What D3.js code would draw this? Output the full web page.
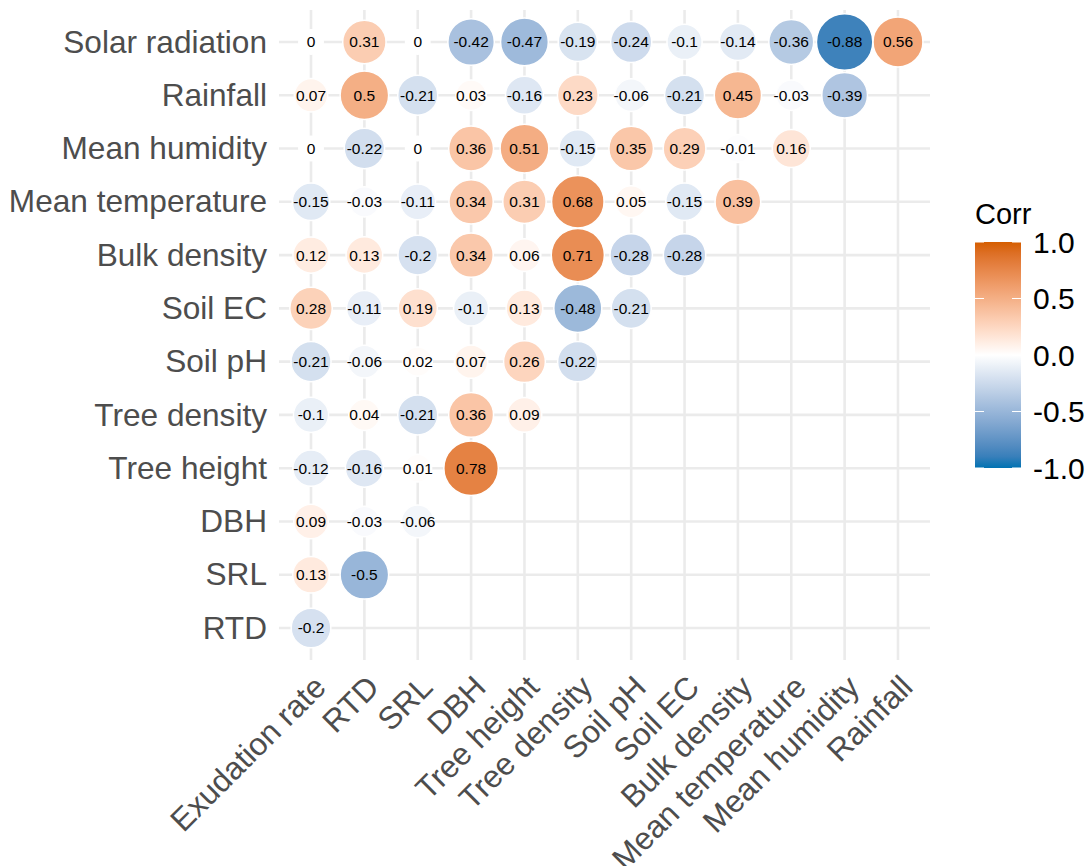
<!DOCTYPE html>
<html>
<head>
<meta charset="utf-8">
<script src="https://cdn.jsdelivr.net/npm/d3@7"></script>
<style>
  html, body { margin: 0; padding: 0; background: #ffffff; }
  svg { display: block; font-family: "Liberation Sans", Arial, Helvetica, sans-serif; }
</style>
</head>
<body>
<svg id="chart" width="1091" height="866"></svg>
<script>
// Variables along the x axis (left to right)
const colVars = ["Exudation rate", "RTD", "SRL", "DBH", "Tree height", "Tree density",
                 "Soil pH", "Soil EC", "Bulk density", "Mean temperature", "Mean humidity", "Rainfall"];
// Variables along the y axis (top to bottom)
const rowVars = ["Solar radiation", "Rainfall", "Mean humidity", "Mean temperature", "Bulk density",
                 "Soil EC", "Soil pH", "Tree density", "Tree height", "DBH", "SRL", "RTD"];
// Correlations, one array per row, listed in column order
const corrRows = [
  [0, 0.31, 0, -0.42, -0.47, -0.19, -0.24, -0.1, -0.14, -0.36, -0.88, 0.56],
  [0.07, 0.5, -0.21, 0.03, -0.16, 0.23, -0.06, -0.21, 0.45, -0.03, -0.39],
  [0, -0.22, 0, 0.36, 0.51, -0.15, 0.35, 0.29, -0.01, 0.16],
  [-0.15, -0.03, -0.11, 0.34, 0.31, 0.68, 0.05, -0.15, 0.39],
  [0.12, 0.13, -0.2, 0.34, 0.06, 0.71, -0.28, -0.28],
  [0.28, -0.11, 0.19, -0.1, 0.13, -0.48, -0.21],
  [-0.21, -0.06, 0.02, 0.07, 0.26, -0.22],
  [-0.1, 0.04, -0.21, 0.36, 0.09],
  [-0.12, -0.16, 0.01, 0.78],
  [0.09, -0.03, -0.06],
  [0.13, -0.5],
  [-0.2]
];
// Colour bar ticks
const legendTicks = [1.0, 0.5, 0.0, -0.5, -1.0];

const cells = [];
corrRows.forEach((vals, r) => {
  vals.forEach((v, c) => cells.push({ row: rowVars[r], col: colVars[c], value: v }));
});

const svg = d3.select("#chart");

const panel = { left: 279, right: 930, top: 10, bottom: 660 };

const x = d3.scalePoint().domain(colVars).range([panel.left, panel.right]).padding(0.6);
const y = d3.scalePoint().domain(rowVars).range([panel.top, panel.bottom]).padding(0.6);

const fill = d3.scaleLinear()
  .domain([-1, 0, 1])
  .range(["#0072B2", "#ffffff", "#D55E00"])
  .interpolate(d3.interpolateLab);

const maxAbs = d3.max(cells, d => Math.abs(d.value));
const radius = d3.scaleSqrt().domain([0, maxAbs]).range([12.2, 28.2]);

// Grid
const grid = svg.append("g").attr("stroke", "#ebebeb").attr("stroke-width", 2.6);
grid.selectAll("line.v").data(colVars).join("line")
  .attr("x1", d => x(d)).attr("x2", d => x(d))
  .attr("y1", panel.top).attr("y2", panel.bottom);
grid.selectAll("line.h").data(rowVars).join("line")
  .attr("x1", panel.left).attr("x2", panel.right)
  .attr("y1", d => y(d)).attr("y2", d => y(d));

// Circles
svg.append("g").selectAll("circle").data(cells).join("circle")
  .attr("cx", d => x(d.col))
  .attr("cy", d => y(d.row))
  .attr("r", d => radius(Math.abs(d.value)))
  .attr("fill", d => fill(d.value))
  .attr("stroke", "#ffffff")
  .attr("stroke-width", 1.5);

// Value labels
svg.append("g").selectAll("text").data(cells).join("text")
  .attr("x", d => x(d.col))
  .attr("y", d => y(d.row))
  .attr("dy", "0.35em")
  .attr("text-anchor", "middle")
  .attr("font-size", 15.5)
  .attr("fill", "#000000")
  .text(d => String(d.value));

// Y axis labels
const yAxis = d3.axisLeft(y).tickSize(0).tickPadding(0);
const yg = svg.append("g").attr("transform", `translate(${panel.left - 12},0)`).call(yAxis);
yg.select(".domain").remove();
yg.selectAll("text")
  .attr("font-size", 31.6)
  .attr("fill", "#4d4d4d")
  .attr("font-family", "Liberation Sans, Arial, sans-serif");

// X axis labels, rotated
const xAxis = d3.axisBottom(x).tickSize(0).tickPadding(0);
const xg = svg.append("g").attr("transform", `translate(0,${panel.bottom + 13})`).call(xAxis);
xg.select(".domain").remove();
xg.selectAll("text")
  .attr("font-size", 31.6)
  .attr("fill", "#4d4d4d")
  .attr("font-family", "Liberation Sans, Arial, sans-serif")
  .attr("text-anchor", "end")
  .attr("x", 0).attr("y", 0)
  .attr("dy", "0.72em")
  .attr("transform", "rotate(-45)");

// Legend
const legend = { x: 975, top: 242, bottom: 468, width: 46 };
const ly = d3.scaleLinear().domain([1, -1]).range([legend.top, legend.bottom]);

const defs = svg.append("defs");
const grad = defs.append("linearGradient").attr("id", "corr-grad")
  .attr("x1", 0).attr("y1", 0).attr("x2", 0).attr("y2", 1);
d3.range(0, 1.0001, 0.05).forEach(t => {
  grad.append("stop").attr("offset", t).attr("stop-color", fill(1 - 2 * t));
});

svg.append("text")
  .attr("x", legend.x).attr("y", 224)
  .attr("font-size", 29)
  .attr("fill", "#000000")
  .text("Corr");

svg.append("rect")
  .attr("x", legend.x).attr("y", legend.top)
  .attr("width", legend.width).attr("height", legend.bottom - legend.top)
  .attr("fill", "url(#corr-grad)");

const lt = svg.append("g").attr("stroke", "#ffffff").attr("stroke-width", 1);
lt.selectAll("line.l").data(legendTicks).join("line")
  .attr("x1", legend.x).attr("x2", legend.x + 9)
  .attr("y1", d => ly(d)).attr("y2", d => ly(d));
lt.selectAll("line.r").data(legendTicks).join("line")
  .attr("x1", legend.x + legend.width - 9).attr("x2", legend.x + legend.width)
  .attr("y1", d => ly(d)).attr("y2", d => ly(d));

svg.append("g").selectAll("text").data(legendTicks).join("text")
  .attr("x", 1033)
  .attr("y", d => ly(d))
  .attr("dy", "0.35em")
  .attr("font-size", 30)
  .attr("fill", "#000000")
  .text(d => d3.format(".1f")(d).replace("−", "-"));
</script>
</body>
</html>
